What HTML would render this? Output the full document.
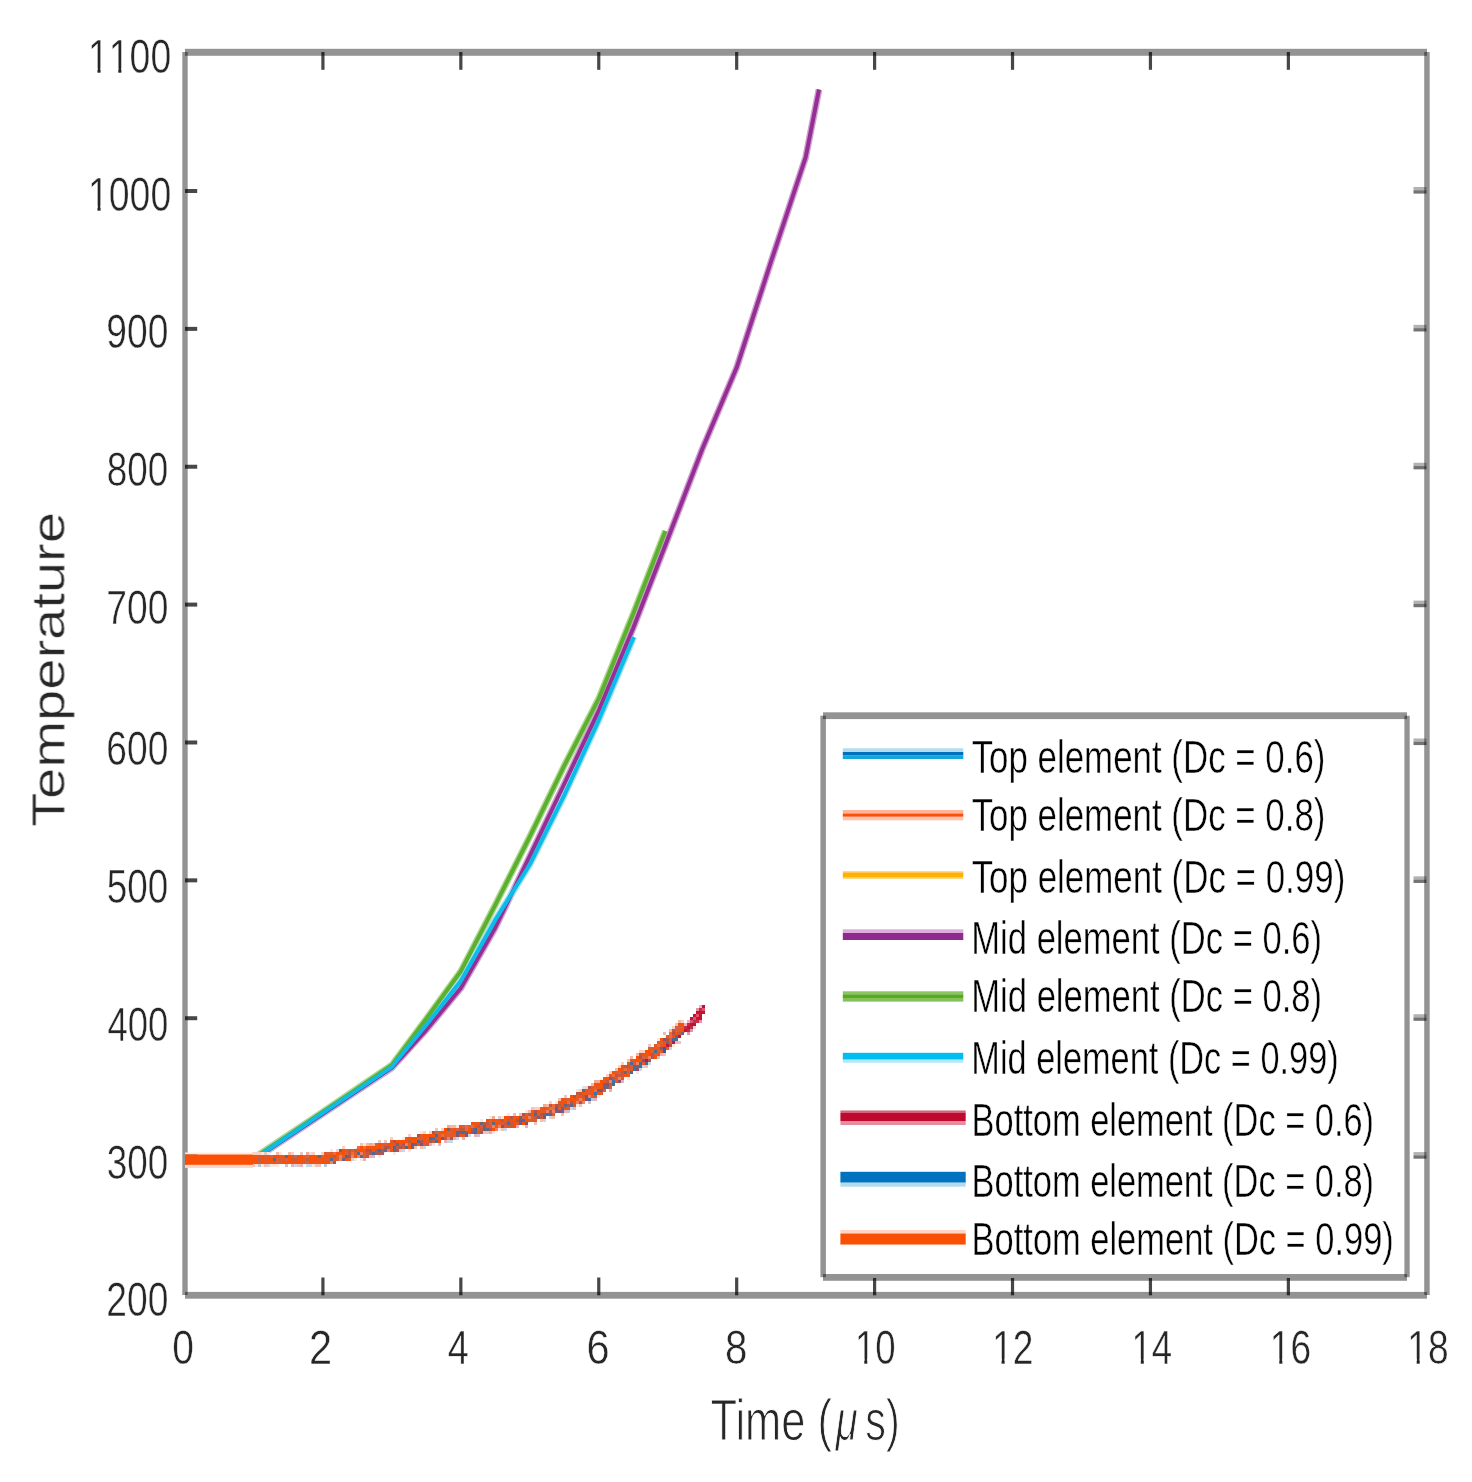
<!DOCTYPE html>
<html><head><meta charset="utf-8"><title>Temperature vs Time</title>
<style>html,body{margin:0;padding:0;background:#fff;width:1472px;height:1482px;overflow:hidden}</style>
</head><body>
<svg width="1472" height="1482" viewBox="0 0 1472 1482" style="display:block;font-family:'Liberation Sans',sans-serif">
<rect width="1472" height="1482" fill="#fff"/>
<rect x="185" y="48.8" width="1242" height="7" fill="rgba(0,0,0,0.425)"/><rect x="185" y="1291.9" width="1242" height="6.8" fill="rgba(0,0,0,0.425)"/><rect x="182.3" y="52" width="5.4" height="1243" fill="rgba(0,0,0,0.425)"/><rect x="1424.2" y="52" width="5.5" height="1243" fill="rgba(0,0,0,0.425)"/>
<rect x="185" y="1154.09" width="12.2" height="4" fill="rgba(0,0,0,0.72)"/><rect x="1413.5" y="1152.09" width="13" height="3.3" fill="rgba(0,0,0,0.3)"/><rect x="1413.5" y="1155.39" width="13" height="3.3" fill="rgba(0,0,0,0.55)"/><rect x="185" y="1016.22" width="12.2" height="4" fill="rgba(0,0,0,0.72)"/><rect x="1413.5" y="1014.22" width="13" height="3.3" fill="rgba(0,0,0,0.3)"/><rect x="1413.5" y="1017.52" width="13" height="3.3" fill="rgba(0,0,0,0.55)"/><rect x="185" y="878.35" width="12.2" height="4" fill="rgba(0,0,0,0.72)"/><rect x="1413.5" y="876.35" width="13" height="3.3" fill="rgba(0,0,0,0.3)"/><rect x="1413.5" y="879.65" width="13" height="3.3" fill="rgba(0,0,0,0.55)"/><rect x="185" y="740.48" width="12.2" height="4" fill="rgba(0,0,0,0.72)"/><rect x="1413.5" y="738.48" width="13" height="3.3" fill="rgba(0,0,0,0.3)"/><rect x="1413.5" y="741.78" width="13" height="3.3" fill="rgba(0,0,0,0.55)"/><rect x="185" y="602.61" width="12.2" height="4" fill="rgba(0,0,0,0.72)"/><rect x="1413.5" y="600.61" width="13" height="3.3" fill="rgba(0,0,0,0.3)"/><rect x="1413.5" y="603.91" width="13" height="3.3" fill="rgba(0,0,0,0.55)"/><rect x="185" y="464.74" width="12.2" height="4" fill="rgba(0,0,0,0.72)"/><rect x="1413.5" y="462.74" width="13" height="3.3" fill="rgba(0,0,0,0.3)"/><rect x="1413.5" y="466.04" width="13" height="3.3" fill="rgba(0,0,0,0.55)"/><rect x="185" y="326.87" width="12.2" height="4" fill="rgba(0,0,0,0.72)"/><rect x="1413.5" y="324.87" width="13" height="3.3" fill="rgba(0,0,0,0.3)"/><rect x="1413.5" y="328.17" width="13" height="3.3" fill="rgba(0,0,0,0.55)"/><rect x="185" y="189.00" width="12.2" height="4" fill="rgba(0,0,0,0.72)"/><rect x="1413.5" y="187.00" width="13" height="3.3" fill="rgba(0,0,0,0.3)"/><rect x="1413.5" y="190.30" width="13" height="3.3" fill="rgba(0,0,0,0.55)"/><rect x="321.32" y="1277.5" width="3.2" height="17.8" fill="rgba(0,0,0,0.72)"/><rect x="321.32" y="52" width="3.2" height="17.8" fill="rgba(0,0,0,0.72)"/><rect x="459.24" y="1277.5" width="3.2" height="17.8" fill="rgba(0,0,0,0.72)"/><rect x="459.24" y="52" width="3.2" height="17.8" fill="rgba(0,0,0,0.72)"/><rect x="597.16" y="1277.5" width="3.2" height="17.8" fill="rgba(0,0,0,0.72)"/><rect x="597.16" y="52" width="3.2" height="17.8" fill="rgba(0,0,0,0.72)"/><rect x="735.08" y="1277.5" width="3.2" height="17.8" fill="rgba(0,0,0,0.72)"/><rect x="735.08" y="52" width="3.2" height="17.8" fill="rgba(0,0,0,0.72)"/><rect x="873.00" y="1277.5" width="3.2" height="17.8" fill="rgba(0,0,0,0.72)"/><rect x="873.00" y="52" width="3.2" height="17.8" fill="rgba(0,0,0,0.72)"/><rect x="1010.92" y="1277.5" width="3.2" height="17.8" fill="rgba(0,0,0,0.72)"/><rect x="1010.92" y="52" width="3.2" height="17.8" fill="rgba(0,0,0,0.72)"/><rect x="1148.84" y="1277.5" width="3.2" height="17.8" fill="rgba(0,0,0,0.72)"/><rect x="1148.84" y="52" width="3.2" height="17.8" fill="rgba(0,0,0,0.72)"/><rect x="1286.76" y="1277.5" width="3.2" height="17.8" fill="rgba(0,0,0,0.72)"/><rect x="1286.76" y="52" width="3.2" height="17.8" fill="rgba(0,0,0,0.72)"/>
<g transform="scale(1.0,1)"><polyline points="253.30,1158.40 253.96,1157.96 288.44,1134.87 322.92,1111.72 357.40,1088.44 391.88,1065.02 426.36,1018.74 460.84,971.27 495.32,904.80 529.80,836.57 564.28,765.68 598.76,698.65 633.24,613.73 665.40,531.00" fill="none" stroke="#b0d890" stroke-width="6.8" stroke-linejoin="round" stroke-linecap="butt"/><polyline points="254.40,1159.40 288.44,1136.74 322.92,1113.74 357.40,1090.76 391.88,1067.83 426.36,1029.82 460.84,988.06 495.32,927.49 529.80,856.24 564.28,783.99 598.76,710.56 633.24,627.94 667.72,538.99 702.20,449.25 736.68,367.55 771.16,261.23 805.64,157.45 819.00,89.50" fill="none" stroke="#d0a0d0" stroke-width="6.8" stroke-linejoin="round" stroke-linecap="butt"/><polyline points="254.00,1159.00 288.44,1136.02 322.92,1112.95 357.40,1089.88 391.88,1066.85 426.36,1024.75 460.84,980.99 495.32,919.97 529.80,864.50 564.28,795.04 598.76,720.08 633.24,638.29 633.75,637.00" fill="none" stroke="#a0e0f6" stroke-width="6.8" stroke-linejoin="round" stroke-linecap="butt"/><polyline points="254.40,1159.40 288.44,1136.74 322.92,1113.74 357.40,1090.76 391.88,1067.83 426.36,1029.82 460.84,988.06 495.32,927.49 529.80,856.24 564.28,783.99 598.76,710.56 633.24,627.94 667.72,538.99 702.20,449.25 736.68,367.55 771.16,261.23 805.64,157.45 819.00,89.50" fill="none" stroke="#952f95" stroke-width="4.0" stroke-linejoin="round" stroke-linecap="butt"/><polyline points="253.30,1158.40 253.96,1157.96 288.44,1134.87 322.92,1111.72 357.40,1088.44 391.88,1065.02 426.36,1018.74 460.84,971.27 495.32,904.80 529.80,836.57 564.28,765.68 598.76,698.65 633.24,613.73 665.40,531.00" fill="none" stroke="#5cb030" stroke-width="4.0" stroke-linejoin="round" stroke-linecap="butt"/><polyline points="254.00,1159.00 288.44,1136.02 322.92,1112.95 357.40,1089.88 391.88,1066.85 426.36,1024.75 460.84,980.99 495.32,919.97 529.80,864.50 564.28,795.04 598.76,720.08 633.24,638.29 633.75,637.00" fill="none" stroke="#0cbbe8" stroke-width="4.0" stroke-linejoin="round" stroke-linecap="butt"/></g>
<g transform="scale(1.0,1)"><polyline points="322.00,1159.60 342.00,1155.50 372.00,1150.50 393.00,1146.30 430.00,1138.50 472.00,1129.00 497.00,1124.00 522.00,1120.00 540.75,1113.50 559.50,1107.50 576.00,1099.50 598.00,1089.40 620.00,1074.50 640.40,1061.00 660.80,1047.50 681.10,1030.00 684.00,1026.00" fill="none" stroke="#e35f2c" stroke-width="8.4" stroke-linejoin="round" stroke-linecap="butt" /></g>
<rect x="252" y="1152" width="3" height="3" fill="#fbd0c0"/><rect x="252" y="1155" width="3" height="3" fill="#e05a28"/><rect x="252" y="1158" width="3" height="3" fill="#fa5005"/><rect x="252" y="1161" width="3" height="3" fill="#e05a28"/><rect x="252" y="1164" width="3" height="3" fill="#f4c0b4"/><rect x="255" y="1152" width="3" height="3" fill="#fbd0c0"/><rect x="255" y="1155" width="3" height="3" fill="#e05a28"/><rect x="255" y="1158" width="3" height="3" fill="#fa5005"/><rect x="255" y="1161" width="3" height="3" fill="#fa5005"/><rect x="255" y="1164" width="3" height="3" fill="#fde6dc"/><rect x="258" y="1152" width="3" height="3" fill="#fbd0c0"/><rect x="258" y="1155" width="3" height="3" fill="#e05a28"/><rect x="258" y="1158" width="3" height="3" fill="#b86050"/><rect x="258" y="1161" width="3" height="3" fill="#e05a28"/><rect x="258" y="1164" width="3" height="3" fill="#b8c8dc"/><rect x="261" y="1152" width="3" height="3" fill="#fde6dc"/><rect x="261" y="1155" width="3" height="3" fill="#fa5005"/><rect x="261" y="1158" width="3" height="3" fill="#fa5005"/><rect x="261" y="1161" width="3" height="3" fill="#fa5005"/><rect x="261" y="1164" width="3" height="3" fill="#fde6dc"/><rect x="264" y="1152" width="3" height="3" fill="#e8c8c0"/><rect x="264" y="1155" width="3" height="3" fill="#e05a28"/><rect x="264" y="1158" width="3" height="3" fill="#e05a28"/><rect x="264" y="1161" width="3" height="3" fill="#e05a28"/><rect x="264" y="1164" width="3" height="3" fill="#f4c0b4"/><rect x="267" y="1152" width="3" height="3" fill="#fde6dc"/><rect x="267" y="1155" width="3" height="3" fill="#e05a28"/><rect x="267" y="1158" width="3" height="3" fill="#fa5005"/><rect x="267" y="1161" width="3" height="3" fill="#e05a28"/><rect x="267" y="1164" width="3" height="3" fill="#c8d8e8"/><rect x="270" y="1155" width="3" height="3" fill="#d8603c"/><rect x="270" y="1158" width="3" height="3" fill="#fa5005"/><rect x="270" y="1161" width="3" height="3" fill="#e05a28"/><rect x="270" y="1164" width="3" height="3" fill="#fde6dc"/><rect x="273" y="1155" width="3" height="3" fill="#fa5005"/><rect x="273" y="1158" width="3" height="3" fill="#6a6478"/><rect x="273" y="1161" width="3" height="3" fill="#fa5005"/><rect x="273" y="1164" width="3" height="3" fill="#fde6dc"/><rect x="276" y="1152" width="3" height="3" fill="#f6b8a4"/><rect x="276" y="1155" width="3" height="3" fill="#fa5005"/><rect x="276" y="1158" width="3" height="3" fill="#d8603c"/><rect x="276" y="1161" width="3" height="3" fill="#d8603c"/><rect x="276" y="1164" width="3" height="3" fill="#fde6dc"/><rect x="279" y="1152" width="3" height="3" fill="#fde6dc"/><rect x="279" y="1155" width="3" height="3" fill="#e05a28"/><rect x="279" y="1158" width="3" height="3" fill="#e05a28"/><rect x="279" y="1161" width="3" height="3" fill="#e05a28"/><rect x="282" y="1155" width="3" height="3" fill="#e05a28"/><rect x="282" y="1158" width="3" height="3" fill="#e05a28"/><rect x="282" y="1161" width="3" height="3" fill="#fa5005"/><rect x="285" y="1155" width="3" height="3" fill="#6a6478"/><rect x="285" y="1158" width="3" height="3" fill="#d8603c"/><rect x="285" y="1161" width="3" height="3" fill="#fa5005"/><rect x="285" y="1164" width="3" height="3" fill="#d0c0d0"/><rect x="288" y="1152" width="3" height="3" fill="#f6b8a4"/><rect x="288" y="1155" width="3" height="3" fill="#fa5005"/><rect x="288" y="1158" width="3" height="3" fill="#fa5005"/><rect x="288" y="1161" width="3" height="3" fill="#fa5005"/><rect x="291" y="1152" width="3" height="3" fill="#fbd0c0"/><rect x="291" y="1155" width="3" height="3" fill="#e05a28"/><rect x="291" y="1158" width="3" height="3" fill="#c85a40"/><rect x="291" y="1161" width="3" height="3" fill="#fa5005"/><rect x="291" y="1164" width="3" height="3" fill="#e8b0b8"/><rect x="294" y="1155" width="3" height="3" fill="#d8603c"/><rect x="294" y="1158" width="3" height="3" fill="#c85a40"/><rect x="294" y="1161" width="3" height="3" fill="#fa5005"/><rect x="294" y="1164" width="3" height="3" fill="#c8d8e8"/><rect x="297" y="1155" width="3" height="3" fill="#b86050"/><rect x="297" y="1158" width="3" height="3" fill="#fa5005"/><rect x="297" y="1161" width="3" height="3" fill="#fa5005"/><rect x="297" y="1164" width="3" height="3" fill="#f4c0b4"/><rect x="300" y="1152" width="3" height="3" fill="#e8c8c0"/><rect x="300" y="1155" width="3" height="3" fill="#fa5005"/><rect x="300" y="1158" width="3" height="3" fill="#fa5005"/><rect x="300" y="1161" width="3" height="3" fill="#e05a28"/><rect x="300" y="1164" width="3" height="3" fill="#e8b0b8"/><rect x="303" y="1155" width="3" height="3" fill="#d8603c"/><rect x="303" y="1158" width="3" height="3" fill="#e05a28"/><rect x="303" y="1161" width="3" height="3" fill="#e05a28"/><rect x="306" y="1152" width="3" height="3" fill="#f4a890"/><rect x="306" y="1155" width="3" height="3" fill="#d8603c"/><rect x="306" y="1158" width="3" height="3" fill="#c85a40"/><rect x="306" y="1161" width="3" height="3" fill="#d8603c"/><rect x="306" y="1164" width="3" height="3" fill="#c8d8e8"/><rect x="309" y="1152" width="3" height="3" fill="#d8e6f0"/><rect x="309" y="1155" width="3" height="3" fill="#fa5005"/><rect x="309" y="1158" width="3" height="3" fill="#fa5005"/><rect x="309" y="1161" width="3" height="3" fill="#fa5005"/><rect x="309" y="1164" width="3" height="3" fill="#c8d8e8"/><rect x="312" y="1152" width="3" height="3" fill="#fbd0c0"/><rect x="312" y="1155" width="3" height="3" fill="#fa5005"/><rect x="312" y="1158" width="3" height="3" fill="#fa5005"/><rect x="312" y="1161" width="3" height="3" fill="#e05a28"/><rect x="312" y="1164" width="3" height="3" fill="#fde6dc"/><rect x="315" y="1155" width="3" height="3" fill="#fa5005"/><rect x="315" y="1158" width="3" height="3" fill="#fa5005"/><rect x="315" y="1161" width="3" height="3" fill="#e05a28"/><rect x="315" y="1164" width="3" height="3" fill="#f4c0b4"/><rect x="318" y="1155" width="3" height="3" fill="#6a6478"/><rect x="318" y="1158" width="3" height="3" fill="#e05a28"/><rect x="318" y="1161" width="3" height="3" fill="#e05a28"/><rect x="318" y="1164" width="3" height="3" fill="#f4c0b4"/><rect x="321" y="1152" width="3" height="3" fill="#fbd0c0"/><rect x="321" y="1155" width="3" height="3" fill="#d8603c"/><rect x="321" y="1158" width="3" height="3" fill="#fa5005"/><rect x="321" y="1161" width="3" height="3" fill="#fa5005"/><rect x="324" y="1152" width="3" height="3" fill="#e05a28"/><rect x="324" y="1155" width="3" height="3" fill="#fa5005"/><rect x="324" y="1158" width="3" height="3" fill="#e05a28"/><rect x="324" y="1161" width="3" height="3" fill="#fa5005"/><rect x="324" y="1164" width="3" height="3" fill="#b8c8dc"/><rect x="327" y="1152" width="3" height="3" fill="#d8603c"/><rect x="327" y="1155" width="3" height="3" fill="#fa5005"/><rect x="327" y="1158" width="3" height="3" fill="#e05a28"/><rect x="327" y="1161" width="3" height="3" fill="#fa5005"/><rect x="330" y="1149" width="3" height="3" fill="#fde6dc"/><rect x="330" y="1152" width="3" height="3" fill="#e45a24"/><rect x="330" y="1155" width="3" height="3" fill="#fa5005"/><rect x="330" y="1158" width="3" height="3" fill="#4a6a96"/><rect x="330" y="1161" width="3" height="3" fill="#f08060"/><rect x="333" y="1152" width="3" height="3" fill="#ee6a3a"/><rect x="333" y="1155" width="3" height="3" fill="#c0583e"/><rect x="333" y="1158" width="3" height="3" fill="#e05a2a"/><rect x="333" y="1161" width="3" height="3" fill="#a85858"/><rect x="336" y="1149" width="3" height="3" fill="#fbd0c0"/><rect x="336" y="1152" width="3" height="3" fill="#fa5005"/><rect x="336" y="1155" width="3" height="3" fill="#e05a2a"/><rect x="336" y="1158" width="3" height="3" fill="#e05a2a"/><rect x="339" y="1149" width="3" height="3" fill="#6a6478"/><rect x="339" y="1152" width="3" height="3" fill="#e45a24"/><rect x="339" y="1155" width="3" height="3" fill="#f08060"/><rect x="339" y="1158" width="3" height="3" fill="#f08060"/><rect x="342" y="1146" width="3" height="3" fill="#fbd0c0"/><rect x="342" y="1149" width="3" height="3" fill="#fa5005"/><rect x="342" y="1152" width="3" height="3" fill="#fa5005"/><rect x="342" y="1155" width="3" height="3" fill="#e05a2a"/><rect x="342" y="1158" width="3" height="3" fill="#6a6480"/><rect x="345" y="1149" width="3" height="3" fill="#e45a24"/><rect x="345" y="1152" width="3" height="3" fill="#d8603a"/><rect x="345" y="1155" width="3" height="3" fill="#4a6a96"/><rect x="345" y="1158" width="3" height="3" fill="#fa5005"/><rect x="348" y="1149" width="3" height="3" fill="#c0583e"/><rect x="348" y="1152" width="3" height="3" fill="#c0583e"/><rect x="348" y="1155" width="3" height="3" fill="#a85858"/><rect x="348" y="1158" width="3" height="3" fill="#e05a2a"/><rect x="351" y="1149" width="3" height="3" fill="#e45a24"/><rect x="351" y="1152" width="3" height="3" fill="#ee6a3a"/><rect x="351" y="1155" width="3" height="3" fill="#f08060"/><rect x="351" y="1158" width="3" height="3" fill="#c8d8e8"/><rect x="354" y="1149" width="3" height="3" fill="#c0583e"/><rect x="354" y="1152" width="3" height="3" fill="#e05a2a"/><rect x="354" y="1155" width="3" height="3" fill="#fa5005"/><rect x="354" y="1158" width="3" height="3" fill="#fde6dc"/><rect x="357" y="1146" width="3" height="3" fill="#ee6a3a"/><rect x="357" y="1149" width="3" height="3" fill="#fa5005"/><rect x="357" y="1152" width="3" height="3" fill="#3a72b0"/><rect x="357" y="1155" width="3" height="3" fill="#f08060"/><rect x="360" y="1143" width="3" height="3" fill="#e8c8c0"/><rect x="360" y="1146" width="3" height="3" fill="#fa5005"/><rect x="360" y="1149" width="3" height="3" fill="#fa5005"/><rect x="360" y="1152" width="3" height="3" fill="#f08060"/><rect x="360" y="1155" width="3" height="3" fill="#6a6480"/><rect x="360" y="1158" width="3" height="3" fill="#fde6dc"/><rect x="363" y="1143" width="3" height="3" fill="#fde6dc"/><rect x="363" y="1146" width="3" height="3" fill="#ee6a3a"/><rect x="363" y="1149" width="3" height="3" fill="#fa5005"/><rect x="363" y="1152" width="3" height="3" fill="#e05a2a"/><rect x="363" y="1155" width="3" height="3" fill="#e05a2a"/><rect x="363" y="1158" width="3" height="3" fill="#e8b0b8"/><rect x="366" y="1143" width="3" height="3" fill="#f6b8a4"/><rect x="366" y="1146" width="3" height="3" fill="#fa5005"/><rect x="366" y="1149" width="3" height="3" fill="#b85048"/><rect x="366" y="1152" width="3" height="3" fill="#c8583e"/><rect x="366" y="1155" width="3" height="3" fill="#c8583e"/><rect x="369" y="1143" width="3" height="3" fill="#f4a890"/><rect x="369" y="1146" width="3" height="3" fill="#e45a24"/><rect x="369" y="1149" width="3" height="3" fill="#b85048"/><rect x="369" y="1152" width="3" height="3" fill="#a85858"/><rect x="369" y="1155" width="3" height="3" fill="#e8b0b8"/><rect x="372" y="1143" width="3" height="3" fill="#f6b8a4"/><rect x="372" y="1146" width="3" height="3" fill="#fa5005"/><rect x="372" y="1149" width="3" height="3" fill="#fa5005"/><rect x="372" y="1152" width="3" height="3" fill="#4a6a96"/><rect x="372" y="1155" width="3" height="3" fill="#e8b0b8"/><rect x="375" y="1143" width="3" height="3" fill="#d8603a"/><rect x="375" y="1146" width="3" height="3" fill="#e45a24"/><rect x="375" y="1149" width="3" height="3" fill="#a85858"/><rect x="375" y="1152" width="3" height="3" fill="#a85858"/><rect x="378" y="1140" width="3" height="3" fill="#e8c8c0"/><rect x="378" y="1143" width="3" height="3" fill="#fa5005"/><rect x="378" y="1146" width="3" height="3" fill="#fa5005"/><rect x="378" y="1149" width="3" height="3" fill="#4a6a96"/><rect x="378" y="1152" width="3" height="3" fill="#a85858"/><rect x="378" y="1155" width="3" height="3" fill="#fde6dc"/><rect x="381" y="1143" width="3" height="3" fill="#e45a24"/><rect x="381" y="1146" width="3" height="3" fill="#d8603a"/><rect x="381" y="1149" width="3" height="3" fill="#a85858"/><rect x="381" y="1152" width="3" height="3" fill="#a85858"/><rect x="384" y="1140" width="3" height="3" fill="#e8c8c0"/><rect x="384" y="1143" width="3" height="3" fill="#e45a24"/><rect x="384" y="1146" width="3" height="3" fill="#b85048"/><rect x="384" y="1149" width="3" height="3" fill="#6a6480"/><rect x="387" y="1143" width="3" height="3" fill="#fa5005"/><rect x="387" y="1146" width="3" height="3" fill="#a85858"/><rect x="387" y="1149" width="3" height="3" fill="#f08060"/><rect x="390" y="1137" width="3" height="3" fill="#fbd0c0"/><rect x="390" y="1140" width="3" height="3" fill="#e45a24"/><rect x="390" y="1143" width="3" height="3" fill="#fa5005"/><rect x="390" y="1146" width="3" height="3" fill="#e05a2a"/><rect x="390" y="1149" width="3" height="3" fill="#fa5005"/><rect x="393" y="1140" width="3" height="3" fill="#b85048"/><rect x="393" y="1143" width="3" height="3" fill="#fa5005"/><rect x="393" y="1146" width="3" height="3" fill="#4a6a96"/><rect x="393" y="1149" width="3" height="3" fill="#6a6480"/><rect x="393" y="1152" width="3" height="3" fill="#fde6dc"/><rect x="396" y="1140" width="3" height="3" fill="#fa5005"/><rect x="396" y="1143" width="3" height="3" fill="#6a6478"/><rect x="396" y="1146" width="3" height="3" fill="#c8583e"/><rect x="396" y="1149" width="3" height="3" fill="#a85858"/><rect x="399" y="1140" width="3" height="3" fill="#fa5005"/><rect x="399" y="1143" width="3" height="3" fill="#e45a24"/><rect x="399" y="1146" width="3" height="3" fill="#a85858"/><rect x="399" y="1149" width="3" height="3" fill="#f4c0b4"/><rect x="402" y="1137" width="3" height="3" fill="#fde6dc"/><rect x="402" y="1140" width="3" height="3" fill="#fa5005"/><rect x="402" y="1143" width="3" height="3" fill="#a85858"/><rect x="402" y="1146" width="3" height="3" fill="#c8583e"/><rect x="402" y="1149" width="3" height="3" fill="#c8d8e8"/><rect x="405" y="1137" width="3" height="3" fill="#e45a24"/><rect x="405" y="1140" width="3" height="3" fill="#fa5005"/><rect x="405" y="1143" width="3" height="3" fill="#f08060"/><rect x="405" y="1146" width="3" height="3" fill="#4a6a96"/><rect x="408" y="1134" width="3" height="3" fill="#fbd0c0"/><rect x="408" y="1137" width="3" height="3" fill="#fa5005"/><rect x="408" y="1140" width="3" height="3" fill="#c0583e"/><rect x="408" y="1143" width="3" height="3" fill="#e05a2a"/><rect x="408" y="1146" width="3" height="3" fill="#fa5005"/><rect x="408" y="1149" width="3" height="3" fill="#fde6dc"/><rect x="411" y="1137" width="3" height="3" fill="#fa5005"/><rect x="411" y="1140" width="3" height="3" fill="#fa5005"/><rect x="411" y="1143" width="3" height="3" fill="#8a5070"/><rect x="411" y="1146" width="3" height="3" fill="#6a6480"/><rect x="414" y="1137" width="3" height="3" fill="#fa5005"/><rect x="414" y="1140" width="3" height="3" fill="#fa5005"/><rect x="414" y="1143" width="3" height="3" fill="#6a6480"/><rect x="414" y="1146" width="3" height="3" fill="#f4c0b4"/><rect x="417" y="1134" width="3" height="3" fill="#b85048"/><rect x="417" y="1137" width="3" height="3" fill="#d8603a"/><rect x="417" y="1140" width="3" height="3" fill="#4a6a96"/><rect x="417" y="1143" width="3" height="3" fill="#fa5005"/><rect x="420" y="1131" width="3" height="3" fill="#fde6dc"/><rect x="420" y="1134" width="3" height="3" fill="#e45a24"/><rect x="420" y="1137" width="3" height="3" fill="#e45a24"/><rect x="420" y="1140" width="3" height="3" fill="#a85858"/><rect x="420" y="1143" width="3" height="3" fill="#8a5070"/><rect x="420" y="1146" width="3" height="3" fill="#f4c0b4"/><rect x="423" y="1131" width="3" height="3" fill="#fbd0c0"/><rect x="423" y="1134" width="3" height="3" fill="#fa5005"/><rect x="423" y="1137" width="3" height="3" fill="#fa5005"/><rect x="423" y="1140" width="3" height="3" fill="#fa5005"/><rect x="423" y="1143" width="3" height="3" fill="#e05a2a"/><rect x="423" y="1146" width="3" height="3" fill="#c8d8e8"/><rect x="426" y="1134" width="3" height="3" fill="#fa5005"/><rect x="426" y="1137" width="3" height="3" fill="#e45a24"/><rect x="426" y="1140" width="3" height="3" fill="#e05a2a"/><rect x="426" y="1143" width="3" height="3" fill="#c8583e"/><rect x="429" y="1131" width="3" height="3" fill="#fbd0c0"/><rect x="429" y="1134" width="3" height="3" fill="#fa5005"/><rect x="429" y="1137" width="3" height="3" fill="#4a6a96"/><rect x="429" y="1140" width="3" height="3" fill="#a85858"/><rect x="429" y="1143" width="3" height="3" fill="#e8b0b8"/><rect x="432" y="1131" width="3" height="3" fill="#b85048"/><rect x="432" y="1134" width="3" height="3" fill="#fa5005"/><rect x="432" y="1137" width="3" height="3" fill="#3a72b0"/><rect x="432" y="1140" width="3" height="3" fill="#c8583e"/><rect x="432" y="1143" width="3" height="3" fill="#fde6dc"/><rect x="435" y="1128" width="3" height="3" fill="#e8c8c0"/><rect x="435" y="1131" width="3" height="3" fill="#d8603a"/><rect x="435" y="1134" width="3" height="3" fill="#4c6a92"/><rect x="435" y="1137" width="3" height="3" fill="#c8583e"/><rect x="435" y="1140" width="3" height="3" fill="#3a72b0"/><rect x="438" y="1131" width="3" height="3" fill="#e45a24"/><rect x="438" y="1134" width="3" height="3" fill="#e45a24"/><rect x="438" y="1137" width="3" height="3" fill="#fa5005"/><rect x="438" y="1140" width="3" height="3" fill="#fa5005"/><rect x="438" y="1143" width="3" height="3" fill="#d0c0d0"/><rect x="441" y="1128" width="3" height="3" fill="#fbd0c0"/><rect x="441" y="1131" width="3" height="3" fill="#fa5005"/><rect x="441" y="1134" width="3" height="3" fill="#ee6a3a"/><rect x="441" y="1137" width="3" height="3" fill="#8a5070"/><rect x="444" y="1128" width="3" height="3" fill="#fa5005"/><rect x="444" y="1131" width="3" height="3" fill="#fa5005"/><rect x="444" y="1134" width="3" height="3" fill="#e05a2a"/><rect x="444" y="1137" width="3" height="3" fill="#c8583e"/><rect x="444" y="1140" width="3" height="3" fill="#e8b0b8"/><rect x="447" y="1125" width="3" height="3" fill="#f4a890"/><rect x="447" y="1128" width="3" height="3" fill="#6a6478"/><rect x="447" y="1131" width="3" height="3" fill="#d8603a"/><rect x="447" y="1134" width="3" height="3" fill="#e05a2a"/><rect x="447" y="1137" width="3" height="3" fill="#f08060"/><rect x="447" y="1140" width="3" height="3" fill="#c8d8e8"/><rect x="450" y="1125" width="3" height="3" fill="#f6b8a4"/><rect x="450" y="1128" width="3" height="3" fill="#e45a24"/><rect x="450" y="1131" width="3" height="3" fill="#e45a24"/><rect x="450" y="1134" width="3" height="3" fill="#e05a2a"/><rect x="450" y="1137" width="3" height="3" fill="#a85858"/><rect x="450" y="1140" width="3" height="3" fill="#c8d8e8"/><rect x="453" y="1125" width="3" height="3" fill="#f6b8a4"/><rect x="453" y="1128" width="3" height="3" fill="#fa5005"/><rect x="453" y="1131" width="3" height="3" fill="#fa5005"/><rect x="453" y="1134" width="3" height="3" fill="#e05a2a"/><rect x="453" y="1137" width="3" height="3" fill="#e8b0b8"/><rect x="456" y="1125" width="3" height="3" fill="#fde6dc"/><rect x="456" y="1128" width="3" height="3" fill="#d8603a"/><rect x="456" y="1131" width="3" height="3" fill="#4a6a96"/><rect x="456" y="1134" width="3" height="3" fill="#8a5070"/><rect x="456" y="1137" width="3" height="3" fill="#c8d8e8"/><rect x="459" y="1125" width="3" height="3" fill="#fa5005"/><rect x="459" y="1128" width="3" height="3" fill="#c0583e"/><rect x="459" y="1131" width="3" height="3" fill="#6a6480"/><rect x="459" y="1134" width="3" height="3" fill="#fa5005"/><rect x="462" y="1125" width="3" height="3" fill="#d8603a"/><rect x="462" y="1128" width="3" height="3" fill="#c0583e"/><rect x="462" y="1131" width="3" height="3" fill="#4a6a96"/><rect x="462" y="1134" width="3" height="3" fill="#e05a2a"/><rect x="462" y="1137" width="3" height="3" fill="#e8b0b8"/><rect x="465" y="1125" width="3" height="3" fill="#ee6a3a"/><rect x="465" y="1128" width="3" height="3" fill="#ee6a3a"/><rect x="465" y="1131" width="3" height="3" fill="#6a6480"/><rect x="465" y="1134" width="3" height="3" fill="#8a5070"/><rect x="468" y="1125" width="3" height="3" fill="#d8603a"/><rect x="468" y="1128" width="3" height="3" fill="#fa5005"/><rect x="468" y="1131" width="3" height="3" fill="#fa5005"/><rect x="468" y="1134" width="3" height="3" fill="#c8d8e8"/><rect x="471" y="1122" width="3" height="3" fill="#fa5005"/><rect x="471" y="1125" width="3" height="3" fill="#ee6a3a"/><rect x="471" y="1128" width="3" height="3" fill="#a85858"/><rect x="471" y="1131" width="3" height="3" fill="#6a6480"/><rect x="474" y="1122" width="3" height="3" fill="#e45a24"/><rect x="474" y="1125" width="3" height="3" fill="#fa5005"/><rect x="474" y="1128" width="3" height="3" fill="#4a6a96"/><rect x="474" y="1131" width="3" height="3" fill="#4a6a96"/><rect x="474" y="1134" width="3" height="3" fill="#e8b0b8"/><rect x="477" y="1122" width="3" height="3" fill="#fa5005"/><rect x="477" y="1125" width="3" height="3" fill="#c0583e"/><rect x="477" y="1128" width="3" height="3" fill="#e05a2a"/><rect x="477" y="1131" width="3" height="3" fill="#fa5005"/><rect x="477" y="1134" width="3" height="3" fill="#d0c0d0"/><rect x="480" y="1119" width="3" height="3" fill="#fde6dc"/><rect x="480" y="1122" width="3" height="3" fill="#6a6478"/><rect x="480" y="1125" width="3" height="3" fill="#e45a24"/><rect x="480" y="1128" width="3" height="3" fill="#c8583e"/><rect x="480" y="1131" width="3" height="3" fill="#a85858"/><rect x="483" y="1122" width="3" height="3" fill="#c0583e"/><rect x="483" y="1125" width="3" height="3" fill="#6a6480"/><rect x="483" y="1128" width="3" height="3" fill="#6a6480"/><rect x="483" y="1131" width="3" height="3" fill="#f4c0b4"/><rect x="486" y="1119" width="3" height="3" fill="#fa5005"/><rect x="486" y="1122" width="3" height="3" fill="#c0583e"/><rect x="486" y="1125" width="3" height="3" fill="#e05a2a"/><rect x="486" y="1128" width="3" height="3" fill="#6a6480"/><rect x="486" y="1131" width="3" height="3" fill="#f4c0b4"/><rect x="489" y="1116" width="3" height="3" fill="#fde6dc"/><rect x="489" y="1119" width="3" height="3" fill="#d8603a"/><rect x="489" y="1122" width="3" height="3" fill="#d8603a"/><rect x="489" y="1125" width="3" height="3" fill="#e05a2a"/><rect x="489" y="1128" width="3" height="3" fill="#a85858"/><rect x="489" y="1131" width="3" height="3" fill="#e8b0b8"/><rect x="492" y="1116" width="3" height="3" fill="#f4a890"/><rect x="492" y="1119" width="3" height="3" fill="#fa5005"/><rect x="492" y="1122" width="3" height="3" fill="#6a6478"/><rect x="492" y="1125" width="3" height="3" fill="#f08060"/><rect x="492" y="1128" width="3" height="3" fill="#fa5005"/><rect x="492" y="1131" width="3" height="3" fill="#fde6dc"/><rect x="495" y="1119" width="3" height="3" fill="#e45a24"/><rect x="495" y="1122" width="3" height="3" fill="#fa5005"/><rect x="495" y="1125" width="3" height="3" fill="#e05a2a"/><rect x="495" y="1128" width="3" height="3" fill="#f08060"/><rect x="498" y="1116" width="3" height="3" fill="#e8c8c0"/><rect x="498" y="1119" width="3" height="3" fill="#fa5005"/><rect x="498" y="1122" width="3" height="3" fill="#e45a24"/><rect x="498" y="1125" width="3" height="3" fill="#f08060"/><rect x="498" y="1128" width="3" height="3" fill="#fde6dc"/><rect x="501" y="1116" width="3" height="3" fill="#fde6dc"/><rect x="501" y="1119" width="3" height="3" fill="#c0583e"/><rect x="501" y="1122" width="3" height="3" fill="#e05a2a"/><rect x="501" y="1125" width="3" height="3" fill="#8a5070"/><rect x="501" y="1128" width="3" height="3" fill="#f4c0b4"/><rect x="504" y="1116" width="3" height="3" fill="#fa5005"/><rect x="504" y="1119" width="3" height="3" fill="#e45a24"/><rect x="504" y="1122" width="3" height="3" fill="#c8583e"/><rect x="504" y="1125" width="3" height="3" fill="#e05a2a"/><rect x="504" y="1128" width="3" height="3" fill="#c8d8e8"/><rect x="507" y="1113" width="3" height="3" fill="#fde6dc"/><rect x="507" y="1116" width="3" height="3" fill="#fa5005"/><rect x="507" y="1119" width="3" height="3" fill="#c0583e"/><rect x="507" y="1122" width="3" height="3" fill="#3a72b0"/><rect x="507" y="1125" width="3" height="3" fill="#fa5005"/><rect x="510" y="1116" width="3" height="3" fill="#b85048"/><rect x="510" y="1119" width="3" height="3" fill="#fa5005"/><rect x="510" y="1122" width="3" height="3" fill="#c8583e"/><rect x="510" y="1125" width="3" height="3" fill="#c8583e"/><rect x="513" y="1113" width="3" height="3" fill="#f6b8a4"/><rect x="513" y="1116" width="3" height="3" fill="#e45a24"/><rect x="513" y="1119" width="3" height="3" fill="#fa5005"/><rect x="513" y="1122" width="3" height="3" fill="#fa5005"/><rect x="513" y="1125" width="3" height="3" fill="#fa5005"/><rect x="516" y="1116" width="3" height="3" fill="#fa5005"/><rect x="516" y="1119" width="3" height="3" fill="#b85048"/><rect x="516" y="1122" width="3" height="3" fill="#e05a2a"/><rect x="516" y="1125" width="3" height="3" fill="#e8b0b8"/><rect x="519" y="1113" width="3" height="3" fill="#f6b8a4"/><rect x="519" y="1116" width="3" height="3" fill="#6a6478"/><rect x="519" y="1119" width="3" height="3" fill="#8a5070"/><rect x="519" y="1122" width="3" height="3" fill="#4a6a96"/><rect x="522" y="1113" width="3" height="3" fill="#b85048"/><rect x="522" y="1116" width="3" height="3" fill="#d8603a"/><rect x="522" y="1119" width="3" height="3" fill="#4a6a96"/><rect x="522" y="1122" width="3" height="3" fill="#fa5005"/><rect x="525" y="1110" width="3" height="3" fill="#fde6dc"/><rect x="525" y="1113" width="3" height="3" fill="#d8603a"/><rect x="525" y="1116" width="3" height="3" fill="#fa5005"/><rect x="525" y="1119" width="3" height="3" fill="#fa5005"/><rect x="525" y="1122" width="3" height="3" fill="#8a5070"/><rect x="525" y="1125" width="3" height="3" fill="#e8b0b8"/><rect x="528" y="1110" width="3" height="3" fill="#f6b8a4"/><rect x="528" y="1113" width="3" height="3" fill="#c0583e"/><rect x="528" y="1116" width="3" height="3" fill="#f08060"/><rect x="528" y="1119" width="3" height="3" fill="#e05a2a"/><rect x="531" y="1107" width="3" height="3" fill="#e8c8c0"/><rect x="531" y="1110" width="3" height="3" fill="#e45a24"/><rect x="531" y="1113" width="3" height="3" fill="#fa5005"/><rect x="531" y="1116" width="3" height="3" fill="#e05a2a"/><rect x="531" y="1119" width="3" height="3" fill="#e05a2a"/><rect x="534" y="1107" width="3" height="3" fill="#fbd0c0"/><rect x="534" y="1110" width="3" height="3" fill="#b85048"/><rect x="534" y="1113" width="3" height="3" fill="#4c6a92"/><rect x="534" y="1116" width="3" height="3" fill="#c8583e"/><rect x="534" y="1119" width="3" height="3" fill="#e05a2a"/><rect x="534" y="1122" width="3" height="3" fill="#f4c0b4"/><rect x="537" y="1107" width="3" height="3" fill="#fbd0c0"/><rect x="537" y="1110" width="3" height="3" fill="#fa5005"/><rect x="537" y="1113" width="3" height="3" fill="#e05a2a"/><rect x="537" y="1116" width="3" height="3" fill="#6a6480"/><rect x="540" y="1107" width="3" height="3" fill="#e45a24"/><rect x="540" y="1110" width="3" height="3" fill="#e45a24"/><rect x="540" y="1113" width="3" height="3" fill="#a85858"/><rect x="540" y="1116" width="3" height="3" fill="#c8583e"/><rect x="540" y="1119" width="3" height="3" fill="#f4c0b4"/><rect x="543" y="1104" width="3" height="3" fill="#f4a890"/><rect x="543" y="1107" width="3" height="3" fill="#fa5005"/><rect x="543" y="1110" width="3" height="3" fill="#e45a24"/><rect x="543" y="1113" width="3" height="3" fill="#6a6480"/><rect x="543" y="1116" width="3" height="3" fill="#8a5070"/><rect x="543" y="1119" width="3" height="3" fill="#c8d8e8"/><rect x="546" y="1104" width="3" height="3" fill="#f6b8a4"/><rect x="546" y="1107" width="3" height="3" fill="#e45a24"/><rect x="546" y="1110" width="3" height="3" fill="#f08060"/><rect x="546" y="1113" width="3" height="3" fill="#3a72b0"/><rect x="549" y="1101" width="3" height="3" fill="#fbd0c0"/><rect x="549" y="1104" width="3" height="3" fill="#c0583e"/><rect x="549" y="1107" width="3" height="3" fill="#ee6a3a"/><rect x="549" y="1110" width="3" height="3" fill="#a85858"/><rect x="549" y="1113" width="3" height="3" fill="#6a6480"/><rect x="549" y="1116" width="3" height="3" fill="#c8d8e8"/><rect x="552" y="1104" width="3" height="3" fill="#ee6a3a"/><rect x="552" y="1107" width="3" height="3" fill="#ee6a3a"/><rect x="552" y="1110" width="3" height="3" fill="#f08060"/><rect x="552" y="1113" width="3" height="3" fill="#e05a2a"/><rect x="552" y="1116" width="3" height="3" fill="#f4c0b4"/><rect x="555" y="1101" width="3" height="3" fill="#fde6dc"/><rect x="555" y="1104" width="3" height="3" fill="#b85048"/><rect x="555" y="1107" width="3" height="3" fill="#4a6a96"/><rect x="555" y="1110" width="3" height="3" fill="#6a6480"/><rect x="558" y="1098" width="3" height="3" fill="#e8c8c0"/><rect x="558" y="1101" width="3" height="3" fill="#fa5005"/><rect x="558" y="1104" width="3" height="3" fill="#c0583e"/><rect x="558" y="1107" width="3" height="3" fill="#e05a2a"/><rect x="558" y="1110" width="3" height="3" fill="#8a5070"/><rect x="561" y="1098" width="3" height="3" fill="#fa5005"/><rect x="561" y="1101" width="3" height="3" fill="#fa5005"/><rect x="561" y="1104" width="3" height="3" fill="#fa5005"/><rect x="561" y="1107" width="3" height="3" fill="#6a6480"/><rect x="561" y="1110" width="3" height="3" fill="#6a6480"/><rect x="561" y="1113" width="3" height="3" fill="#f4c0b4"/><rect x="564" y="1095" width="3" height="3" fill="#e8c8c0"/><rect x="564" y="1098" width="3" height="3" fill="#e45a24"/><rect x="564" y="1101" width="3" height="3" fill="#fa5005"/><rect x="564" y="1104" width="3" height="3" fill="#6a6480"/><rect x="564" y="1107" width="3" height="3" fill="#fa5005"/><rect x="564" y="1110" width="3" height="3" fill="#e8b0b8"/><rect x="567" y="1098" width="3" height="3" fill="#d8603a"/><rect x="567" y="1101" width="3" height="3" fill="#ee6a3a"/><rect x="567" y="1104" width="3" height="3" fill="#a85858"/><rect x="567" y="1107" width="3" height="3" fill="#e05a2a"/><rect x="567" y="1110" width="3" height="3" fill="#b8c8dc"/><rect x="570" y="1095" width="3" height="3" fill="#fa5005"/><rect x="570" y="1098" width="3" height="3" fill="#fa5005"/><rect x="570" y="1101" width="3" height="3" fill="#a85858"/><rect x="570" y="1104" width="3" height="3" fill="#6a6480"/><rect x="570" y="1107" width="3" height="3" fill="#c8d8e8"/><rect x="573" y="1095" width="3" height="3" fill="#b85048"/><rect x="573" y="1098" width="3" height="3" fill="#fa5005"/><rect x="573" y="1101" width="3" height="3" fill="#fa5005"/><rect x="573" y="1104" width="3" height="3" fill="#c8583e"/><rect x="573" y="1107" width="3" height="3" fill="#d0c0d0"/><rect x="576" y="1089" width="3" height="3" fill="#fde6dc"/><rect x="576" y="1092" width="3" height="3" fill="#c0583e"/><rect x="576" y="1095" width="3" height="3" fill="#e45a24"/><rect x="576" y="1098" width="3" height="3" fill="#e05a2a"/><rect x="576" y="1101" width="3" height="3" fill="#f08060"/><rect x="576" y="1104" width="3" height="3" fill="#fde6dc"/><rect x="579" y="1089" width="3" height="3" fill="#fbd0c0"/><rect x="579" y="1092" width="3" height="3" fill="#c0583e"/><rect x="579" y="1095" width="3" height="3" fill="#fa5005"/><rect x="579" y="1098" width="3" height="3" fill="#f08060"/><rect x="579" y="1101" width="3" height="3" fill="#a85858"/><rect x="579" y="1104" width="3" height="3" fill="#f4c0b4"/><rect x="582" y="1086" width="3" height="3" fill="#d8e6f0"/><rect x="582" y="1089" width="3" height="3" fill="#6a6478"/><rect x="582" y="1092" width="3" height="3" fill="#fa5005"/><rect x="582" y="1095" width="3" height="3" fill="#c8583e"/><rect x="582" y="1098" width="3" height="3" fill="#e05a2a"/><rect x="582" y="1101" width="3" height="3" fill="#f08060"/><rect x="585" y="1086" width="3" height="3" fill="#fbd0c0"/><rect x="585" y="1089" width="3" height="3" fill="#fa5005"/><rect x="585" y="1092" width="3" height="3" fill="#e45a24"/><rect x="585" y="1095" width="3" height="3" fill="#8a5070"/><rect x="585" y="1098" width="3" height="3" fill="#8a5070"/><rect x="588" y="1086" width="3" height="3" fill="#b85048"/><rect x="588" y="1089" width="3" height="3" fill="#e45a24"/><rect x="588" y="1092" width="3" height="3" fill="#e05a2a"/><rect x="588" y="1095" width="3" height="3" fill="#f08060"/><rect x="588" y="1098" width="3" height="3" fill="#4a6a96"/><rect x="588" y="1101" width="3" height="3" fill="#d0c0d0"/><rect x="591" y="1083" width="3" height="3" fill="#f6b8a4"/><rect x="591" y="1086" width="3" height="3" fill="#e45a24"/><rect x="591" y="1089" width="3" height="3" fill="#fa5005"/><rect x="591" y="1092" width="3" height="3" fill="#fa5005"/><rect x="591" y="1095" width="3" height="3" fill="#e05a2a"/><rect x="591" y="1098" width="3" height="3" fill="#b8c8dc"/><rect x="594" y="1080" width="3" height="3" fill="#f4a890"/><rect x="594" y="1083" width="3" height="3" fill="#fa5005"/><rect x="594" y="1086" width="3" height="3" fill="#e45a24"/><rect x="594" y="1089" width="3" height="3" fill="#ee6a3a"/><rect x="594" y="1092" width="3" height="3" fill="#3a72b0"/><rect x="594" y="1095" width="3" height="3" fill="#c8583e"/><rect x="594" y="1098" width="3" height="3" fill="#e8b0b8"/><rect x="597" y="1080" width="3" height="3" fill="#f4a890"/><rect x="597" y="1083" width="3" height="3" fill="#fa5005"/><rect x="597" y="1086" width="3" height="3" fill="#e45a24"/><rect x="597" y="1089" width="3" height="3" fill="#8a5070"/><rect x="597" y="1092" width="3" height="3" fill="#fa5005"/><rect x="597" y="1095" width="3" height="3" fill="#fde6dc"/><rect x="600" y="1080" width="3" height="3" fill="#fa5005"/><rect x="600" y="1083" width="3" height="3" fill="#fa5005"/><rect x="600" y="1086" width="3" height="3" fill="#fa5005"/><rect x="600" y="1089" width="3" height="3" fill="#8a5070"/><rect x="600" y="1092" width="3" height="3" fill="#e05a2a"/><rect x="603" y="1077" width="3" height="3" fill="#e45a24"/><rect x="603" y="1080" width="3" height="3" fill="#fa5005"/><rect x="603" y="1083" width="3" height="3" fill="#6a6478"/><rect x="603" y="1086" width="3" height="3" fill="#6a6480"/><rect x="603" y="1089" width="3" height="3" fill="#e05a2a"/><rect x="606" y="1074" width="3" height="3" fill="#fbd0c0"/><rect x="606" y="1077" width="3" height="3" fill="#fa5005"/><rect x="606" y="1080" width="3" height="3" fill="#c0583e"/><rect x="606" y="1083" width="3" height="3" fill="#8a5070"/><rect x="606" y="1086" width="3" height="3" fill="#6a6480"/><rect x="609" y="1071" width="3" height="3" fill="#fbd0c0"/><rect x="609" y="1074" width="3" height="3" fill="#e45a24"/><rect x="609" y="1077" width="3" height="3" fill="#6a6478"/><rect x="609" y="1080" width="3" height="3" fill="#f08060"/><rect x="609" y="1083" width="3" height="3" fill="#c8583e"/><rect x="609" y="1086" width="3" height="3" fill="#e05a2a"/><rect x="609" y="1089" width="3" height="3" fill="#e8b0b8"/><rect x="612" y="1071" width="3" height="3" fill="#fa5005"/><rect x="612" y="1074" width="3" height="3" fill="#ee6a3a"/><rect x="612" y="1077" width="3" height="3" fill="#c0583e"/><rect x="612" y="1080" width="3" height="3" fill="#3a72b0"/><rect x="612" y="1083" width="3" height="3" fill="#4a6a96"/><rect x="615" y="1068" width="3" height="3" fill="#f6b8a4"/><rect x="615" y="1071" width="3" height="3" fill="#e45a24"/><rect x="615" y="1074" width="3" height="3" fill="#c0583e"/><rect x="615" y="1077" width="3" height="3" fill="#fa5005"/><rect x="615" y="1080" width="3" height="3" fill="#e05a2a"/><rect x="618" y="1065" width="3" height="3" fill="#fbd0c0"/><rect x="618" y="1068" width="3" height="3" fill="#fa5005"/><rect x="618" y="1071" width="3" height="3" fill="#d8603a"/><rect x="618" y="1074" width="3" height="3" fill="#c8583e"/><rect x="618" y="1077" width="3" height="3" fill="#f08060"/><rect x="618" y="1080" width="3" height="3" fill="#8a5070"/><rect x="621" y="1062" width="3" height="3" fill="#fbd0c0"/><rect x="621" y="1065" width="3" height="3" fill="#fa5005"/><rect x="621" y="1068" width="3" height="3" fill="#e45a24"/><rect x="621" y="1071" width="3" height="3" fill="#c0583e"/><rect x="621" y="1074" width="3" height="3" fill="#c8583e"/><rect x="621" y="1077" width="3" height="3" fill="#e05a2a"/><rect x="621" y="1080" width="3" height="3" fill="#e8b0b8"/><rect x="624" y="1065" width="3" height="3" fill="#c0583e"/><rect x="624" y="1068" width="3" height="3" fill="#ee6a3a"/><rect x="624" y="1071" width="3" height="3" fill="#6a6480"/><rect x="624" y="1074" width="3" height="3" fill="#fa5005"/><rect x="627" y="1059" width="3" height="3" fill="#e8c8c0"/><rect x="627" y="1062" width="3" height="3" fill="#e45a24"/><rect x="627" y="1065" width="3" height="3" fill="#c0583e"/><rect x="627" y="1068" width="3" height="3" fill="#e05a2a"/><rect x="627" y="1071" width="3" height="3" fill="#e05a2a"/><rect x="627" y="1074" width="3" height="3" fill="#e05a2a"/><rect x="627" y="1077" width="3" height="3" fill="#fde6dc"/><rect x="630" y="1056" width="3" height="3" fill="#f6b8a4"/><rect x="630" y="1059" width="3" height="3" fill="#e45a24"/><rect x="630" y="1062" width="3" height="3" fill="#4c6a92"/><rect x="630" y="1065" width="3" height="3" fill="#e45a24"/><rect x="630" y="1068" width="3" height="3" fill="#e05a2a"/><rect x="630" y="1071" width="3" height="3" fill="#4a6a96"/><rect x="633" y="1059" width="3" height="3" fill="#fa5005"/><rect x="633" y="1062" width="3" height="3" fill="#e45a24"/><rect x="633" y="1065" width="3" height="3" fill="#3a72b0"/><rect x="633" y="1068" width="3" height="3" fill="#3a72b0"/><rect x="636" y="1053" width="3" height="3" fill="#f6b8a4"/><rect x="636" y="1056" width="3" height="3" fill="#fa5005"/><rect x="636" y="1059" width="3" height="3" fill="#fa5005"/><rect x="636" y="1062" width="3" height="3" fill="#f08060"/><rect x="636" y="1065" width="3" height="3" fill="#6a6480"/><rect x="636" y="1068" width="3" height="3" fill="#8a5070"/><rect x="636" y="1071" width="3" height="3" fill="#fde6dc"/><rect x="639" y="1050" width="3" height="3" fill="#fbd0c0"/><rect x="639" y="1053" width="3" height="3" fill="#c0583e"/><rect x="639" y="1056" width="3" height="3" fill="#b85048"/><rect x="639" y="1059" width="3" height="3" fill="#fa5005"/><rect x="639" y="1062" width="3" height="3" fill="#4a6a96"/><rect x="639" y="1065" width="3" height="3" fill="#3a72b0"/><rect x="639" y="1068" width="3" height="3" fill="#c8d8e8"/><rect x="642" y="1050" width="3" height="3" fill="#fbd0c0"/><rect x="642" y="1053" width="3" height="3" fill="#fa5005"/><rect x="642" y="1056" width="3" height="3" fill="#d8603a"/><rect x="642" y="1059" width="3" height="3" fill="#8a5070"/><rect x="642" y="1062" width="3" height="3" fill="#e05a2a"/><rect x="642" y="1065" width="3" height="3" fill="#c8d8e8"/><rect x="645" y="1050" width="3" height="3" fill="#fa5005"/><rect x="645" y="1053" width="3" height="3" fill="#e45a24"/><rect x="645" y="1056" width="3" height="3" fill="#e05a2a"/><rect x="645" y="1059" width="3" height="3" fill="#c01838"/><rect x="645" y="1062" width="3" height="3" fill="#4a6a96"/><rect x="645" y="1065" width="3" height="3" fill="#f4c0b4"/><rect x="648" y="1044" width="3" height="3" fill="#e8c8c0"/><rect x="648" y="1047" width="3" height="3" fill="#d8603a"/><rect x="648" y="1050" width="3" height="3" fill="#fa5005"/><rect x="648" y="1053" width="3" height="3" fill="#fa5005"/><rect x="648" y="1056" width="3" height="3" fill="#f08060"/><rect x="648" y="1059" width="3" height="3" fill="#a85858"/><rect x="648" y="1062" width="3" height="3" fill="#c8d8e8"/><rect x="651" y="1047" width="3" height="3" fill="#e45a24"/><rect x="651" y="1050" width="3" height="3" fill="#d8603a"/><rect x="651" y="1053" width="3" height="3" fill="#a85858"/><rect x="651" y="1056" width="3" height="3" fill="#a85858"/><rect x="654" y="1044" width="3" height="3" fill="#e45a24"/><rect x="654" y="1047" width="3" height="3" fill="#fa5005"/><rect x="654" y="1050" width="3" height="3" fill="#4a6a96"/><rect x="654" y="1053" width="3" height="3" fill="#e05a2a"/><rect x="654" y="1056" width="3" height="3" fill="#fa5005"/><rect x="657" y="1038" width="3" height="3" fill="#fde6dc"/><rect x="657" y="1041" width="3" height="3" fill="#e45a24"/><rect x="657" y="1044" width="3" height="3" fill="#ee6a3a"/><rect x="657" y="1047" width="3" height="3" fill="#e45a24"/><rect x="657" y="1050" width="3" height="3" fill="#e05a2a"/><rect x="657" y="1053" width="3" height="3" fill="#fa5005"/><rect x="657" y="1056" width="3" height="3" fill="#d0c0d0"/><rect x="660" y="1038" width="3" height="3" fill="#fa5005"/><rect x="660" y="1041" width="3" height="3" fill="#d8603a"/><rect x="660" y="1044" width="3" height="3" fill="#e45a24"/><rect x="660" y="1047" width="3" height="3" fill="#6a6480"/><rect x="660" y="1050" width="3" height="3" fill="#e05a2a"/><rect x="660" y="1053" width="3" height="3" fill="#e8b0b8"/><rect x="663" y="1032" width="3" height="3" fill="#f6b8a4"/><rect x="663" y="1038" width="3" height="3" fill="#6a6478"/><rect x="663" y="1041" width="3" height="3" fill="#fa5005"/><rect x="663" y="1044" width="3" height="3" fill="#fa5005"/><rect x="663" y="1047" width="3" height="3" fill="#3a5aa0"/><rect x="663" y="1050" width="3" height="3" fill="#3a5aa0"/><rect x="663" y="1053" width="3" height="3" fill="#f4c0b4"/><rect x="666" y="1035" width="3" height="3" fill="#e45a24"/><rect x="666" y="1038" width="3" height="3" fill="#b85048"/><rect x="666" y="1041" width="3" height="3" fill="#6a6480"/><rect x="666" y="1044" width="3" height="3" fill="#c01838"/><rect x="666" y="1047" width="3" height="3" fill="#e05a2a"/><rect x="669" y="1029" width="3" height="3" fill="#f6b8a4"/><rect x="669" y="1032" width="3" height="3" fill="#ee6a3a"/><rect x="669" y="1035" width="3" height="3" fill="#ee6a3a"/><rect x="669" y="1038" width="3" height="3" fill="#e05a2a"/><rect x="669" y="1041" width="3" height="3" fill="#e05a2a"/><rect x="669" y="1044" width="3" height="3" fill="#a85858"/><rect x="669" y="1047" width="3" height="3" fill="#c8d8e8"/><rect x="672" y="1026" width="3" height="3" fill="#fbd0c0"/><rect x="672" y="1029" width="3" height="3" fill="#c0583e"/><rect x="672" y="1032" width="3" height="3" fill="#b85048"/><rect x="672" y="1035" width="3" height="3" fill="#fa5005"/><rect x="672" y="1038" width="3" height="3" fill="#4a6a96"/><rect x="672" y="1041" width="3" height="3" fill="#c01838"/><rect x="672" y="1044" width="3" height="3" fill="#fde6dc"/><rect x="675" y="1023" width="3" height="3" fill="#e8c8c0"/><rect x="675" y="1026" width="3" height="3" fill="#d8603a"/><rect x="675" y="1029" width="3" height="3" fill="#d8603a"/><rect x="675" y="1032" width="3" height="3" fill="#fa5005"/><rect x="675" y="1035" width="3" height="3" fill="#6a6480"/><rect x="675" y="1038" width="3" height="3" fill="#4a6a96"/><rect x="675" y="1041" width="3" height="3" fill="#d0c0d0"/><rect x="678" y="1020" width="3" height="3" fill="#f6b8a4"/><rect x="678" y="1023" width="3" height="3" fill="#fa5005"/><rect x="678" y="1026" width="3" height="3" fill="#d8603a"/><rect x="678" y="1029" width="3" height="3" fill="#e45a24"/><rect x="678" y="1032" width="3" height="3" fill="#c8583e"/><rect x="678" y="1035" width="3" height="3" fill="#c01838"/><rect x="678" y="1041" width="3" height="3" fill="#f4c0b4"/><rect x="681" y="1020" width="3" height="3" fill="#fbd0c0"/><rect x="681" y="1023" width="3" height="3" fill="#fa5005"/><rect x="681" y="1026" width="3" height="3" fill="#e45a24"/><rect x="681" y="1029" width="3" height="3" fill="#fa5005"/><rect x="681" y="1032" width="3" height="3" fill="#6a6480"/><rect x="684" y="1023" width="3" height="3" fill="#f0b0c0"/><rect x="684" y="1026" width="3" height="3" fill="#d02848"/><rect x="684" y="1029" width="3" height="3" fill="#c8102e"/><rect x="687" y="1020" width="3" height="3" fill="#f0b0c0"/><rect x="687" y="1023" width="3" height="3" fill="#d02848"/><rect x="687" y="1026" width="3" height="3" fill="#c8102e"/><rect x="687" y="1029" width="3" height="3" fill="#a83850"/><rect x="687" y="1032" width="3" height="3" fill="#e890a8"/><rect x="690" y="1017" width="3" height="3" fill="#b01838"/><rect x="690" y="1020" width="3" height="3" fill="#e05070"/><rect x="690" y="1023" width="3" height="3" fill="#c8102e"/><rect x="690" y="1026" width="3" height="3" fill="#a83850"/><rect x="690" y="1029" width="3" height="3" fill="#e890a8"/><rect x="693" y="1014" width="3" height="3" fill="#c8102e"/><rect x="693" y="1017" width="3" height="3" fill="#e05070"/><rect x="693" y="1020" width="3" height="3" fill="#a83850"/><rect x="693" y="1023" width="3" height="3" fill="#c8102e"/><rect x="693" y="1026" width="3" height="3" fill="#f8d0d8"/><rect x="696" y="1008" width="3" height="3" fill="#e890a8"/><rect x="696" y="1011" width="3" height="3" fill="#c8102e"/><rect x="696" y="1014" width="3" height="3" fill="#e05070"/><rect x="696" y="1017" width="3" height="3" fill="#c8102e"/><rect x="696" y="1020" width="3" height="3" fill="#d02848"/><rect x="699" y="1005" width="3" height="3" fill="#f0b0c0"/><rect x="699" y="1008" width="3" height="3" fill="#d02848"/><rect x="699" y="1011" width="3" height="3" fill="#c8102e"/><rect x="699" y="1014" width="3" height="3" fill="#c8102e"/><rect x="699" y="1017" width="3" height="3" fill="#c8102e"/><rect x="699" y="1020" width="3" height="3" fill="#e890a8"/><rect x="702" y="1005" width="3" height="3" fill="#b01838"/><rect x="702" y="1008" width="3" height="3" fill="#e05070"/><rect x="702" y="1011" width="3" height="3" fill="#c8102e"/>
<rect x="185" y="1154.3" width="68" height="10.6" fill="#fa5005"/><rect x="185" y="1164.9" width="68" height="3" fill="#fdd6c8"/><rect x="185" y="1152.5" width="68" height="1.8" fill="#fde9e2"/>
<rect x="823" y="715" width="584" height="563" fill="#fff"/><rect x="823" y="712.3" width="584" height="6.8" fill="rgba(0,0,0,0.425)"/><rect x="823" y="1274" width="584" height="6.8" fill="rgba(0,0,0,0.425)"/><rect x="820.4" y="715.7" width="5.5" height="561.5" fill="rgba(0,0,0,0.425)"/><rect x="1404.4" y="715.7" width="5.3" height="561.5" fill="rgba(0,0,0,0.425)"/><rect x="842.8" y="748.3" width="120.5" height="3.7" fill="#b3dcf0"/><rect x="842.8" y="752.0" width="120.5" height="3.6" fill="#0070bd"/><rect x="842.8" y="755.6" width="120.5" height="3.4" fill="#12a6da"/><rect x="842.8" y="810.0" width="120.5" height="3.5" fill="#ffb49a"/><rect x="842.8" y="813.5" width="120.5" height="3.3" fill="#fa5005"/><rect x="842.8" y="816.8" width="120.5" height="3.6" fill="#ffc4b0"/><rect x="842.8" y="871.3" width="120.5" height="1.2" fill="#ffc850"/><rect x="842.8" y="872.5" width="120.5" height="4.9" fill="#ffb000"/><rect x="842.8" y="877.4" width="120.5" height="1.2" fill="#ffc040"/><rect x="842.8" y="929.3" width="120.5" height="3.7" fill="#dcacdc"/><rect x="842.8" y="933.0" width="120.5" height="7.0" fill="#8e2a8e"/><rect x="842.8" y="991.3" width="120.5" height="3.0" fill="#8cc464"/><rect x="842.8" y="994.3" width="120.5" height="3.7" fill="#55aa1e"/><rect x="842.8" y="998.0" width="120.5" height="3.6" fill="#84c05c"/><rect x="842.8" y="1052.8" width="120.5" height="6.9" fill="#00bff0"/><rect x="842.8" y="1059.7" width="120.5" height="3.1" fill="#b2e8f8"/><rect x="840.4" y="1110.5" width="125.3" height="2.5" fill="#d8607a"/><rect x="840.4" y="1113.0" width="125.3" height="8.0" fill="#be0a2e"/><rect x="840.4" y="1121.0" width="125.3" height="4.0" fill="#e48ca0"/><rect x="840.4" y="1171.8" width="125.3" height="10.9" fill="#0072c0"/><rect x="840.4" y="1182.7" width="125.3" height="4.0" fill="#b4daf0"/><rect x="840.4" y="1230.0" width="125.3" height="3.5" fill="#ffd4c4"/><rect x="840.4" y="1233.5" width="125.3" height="10.9" fill="#fa5005"/><rect x="840.4" y="1244.4" width="125.3" height="0.6" fill="#ff8c60"/>
<g opacity="0.999" stroke="#fff" stroke-width="0.5"><text x="106.26" y="1316.40" font-size="47.20" fill="#262626" font-style="normal" textLength="62.07" lengthAdjust="spacingAndGlyphs" style="font-kerning:none">200</text><text x="106.85" y="1178.70" font-size="47.20" fill="#262626" font-style="normal" textLength="61.47" lengthAdjust="spacingAndGlyphs" style="font-kerning:none">300</text><text x="107.43" y="1041.00" font-size="47.20" fill="#262626" font-style="normal" textLength="60.88" lengthAdjust="spacingAndGlyphs" style="font-kerning:none">400</text><text x="106.85" y="903.00" font-size="47.20" fill="#262626" font-style="normal" textLength="61.47" lengthAdjust="spacingAndGlyphs" style="font-kerning:none">500</text><text x="106.26" y="765.00" font-size="47.20" fill="#262626" font-style="normal" textLength="62.07" lengthAdjust="spacingAndGlyphs" style="font-kerning:none">600</text><text x="106.26" y="624.20" font-size="47.20" fill="#262626" font-style="normal" textLength="62.07" lengthAdjust="spacingAndGlyphs" style="font-kerning:none">700</text><text x="106.85" y="485.90" font-size="47.20" fill="#262626" font-style="normal" textLength="61.47" lengthAdjust="spacingAndGlyphs" style="font-kerning:none">800</text><text x="106.26" y="347.80" font-size="47.20" fill="#262626" font-style="normal" textLength="62.07" lengthAdjust="spacingAndGlyphs" style="font-kerning:none">900</text><text x="87.96" y="210.80" font-size="47.20" fill="#262626" font-style="normal" textLength="83.27" lengthAdjust="spacingAndGlyphs" style="font-kerning:none">1000</text><text x="87.96" y="73.30" font-size="47.20" fill="#262626" font-style="normal" textLength="83.27" lengthAdjust="spacingAndGlyphs" style="font-kerning:none">1100</text><text x="172.33" y="1363.60" font-size="47.20" fill="#262626" font-style="normal" textLength="21.69" lengthAdjust="spacingAndGlyphs" style="font-kerning:none">0</text><text x="309.10" y="1363.60" font-size="47.20" fill="#262626" font-style="normal" textLength="23.14" lengthAdjust="spacingAndGlyphs" style="font-kerning:none">2</text><text x="447.76" y="1363.60" font-size="47.20" fill="#262626" font-style="normal" textLength="21.03" lengthAdjust="spacingAndGlyphs" style="font-kerning:none">4</text><text x="586.40" y="1363.60" font-size="47.20" fill="#262626" font-style="normal" textLength="23.14" lengthAdjust="spacingAndGlyphs" style="font-kerning:none">6</text><text x="724.99" y="1363.60" font-size="47.20" fill="#262626" font-style="normal" textLength="22.39" lengthAdjust="spacingAndGlyphs" style="font-kerning:none">8</text><text x="854.96" y="1363.60" font-size="47.20" fill="#262626" font-style="normal" textLength="40.70" lengthAdjust="spacingAndGlyphs" style="font-kerning:none">10</text><text x="992.13" y="1363.60" font-size="47.20" fill="#262626" font-style="normal" textLength="41.33" lengthAdjust="spacingAndGlyphs" style="font-kerning:none">12</text><text x="1131.46" y="1363.60" font-size="47.20" fill="#262626" font-style="normal" textLength="40.70" lengthAdjust="spacingAndGlyphs" style="font-kerning:none">14</text><text x="1269.83" y="1363.60" font-size="47.20" fill="#262626" font-style="normal" textLength="41.33" lengthAdjust="spacingAndGlyphs" style="font-kerning:none">16</text><text x="1407.23" y="1363.60" font-size="47.20" fill="#262626" font-style="normal" textLength="41.33" lengthAdjust="spacingAndGlyphs" style="font-kerning:none">18</text><text x="710.52" y="1440.40" font-size="57.30" fill="#262626" font-style="normal" textLength="121.39" lengthAdjust="spacingAndGlyphs" stroke-width="1.1">Time (</text><text x="835.75" y="1440.40" font-size="57.30" fill="#262626" font-style="italic" textLength="21.89" lengthAdjust="spacingAndGlyphs" stroke-width="1.1">μ</text><text x="865.36" y="1440.40" font-size="57.30" fill="#262626" font-style="normal" textLength="34.38" lengthAdjust="spacingAndGlyphs" stroke-width="1.1">s)</text><text transform="translate(64.50,826.92) rotate(-90)" x="0" y="0" font-size="45.35" fill="#262626" textLength="314.95" lengthAdjust="spacingAndGlyphs">Temperature</text><text x="971.66" y="773.30" font-size="46.30" fill="#000" font-style="normal" textLength="353.75" lengthAdjust="spacingAndGlyphs">Top element (Dc = 0.6)</text><text x="971.66" y="831.00" font-size="46.30" fill="#000" font-style="normal" textLength="353.75" lengthAdjust="spacingAndGlyphs">Top element (Dc = 0.8)</text><text x="971.65" y="892.60" font-size="46.30" fill="#000" font-style="normal" textLength="373.65" lengthAdjust="spacingAndGlyphs">Top element (Dc = 0.99)</text><text x="971.30" y="954.30" font-size="46.30" fill="#000" font-style="normal" textLength="350.79" lengthAdjust="spacingAndGlyphs">Mid element (Dc = 0.6)</text><text x="971.30" y="1012.30" font-size="46.30" fill="#000" font-style="normal" textLength="350.79" lengthAdjust="spacingAndGlyphs">Mid element (Dc = 0.8)</text><text x="971.32" y="1074.00" font-size="46.30" fill="#000" font-style="normal" textLength="367.36" lengthAdjust="spacingAndGlyphs">Mid element (Dc = 0.99)</text><text x="971.61" y="1135.70" font-size="46.30" fill="#000" font-style="normal" textLength="402.47" lengthAdjust="spacingAndGlyphs">Bottom element (Dc = 0.6)</text><text x="971.61" y="1197.40" font-size="46.30" fill="#000" font-style="normal" textLength="402.47" lengthAdjust="spacingAndGlyphs">Bottom element (Dc = 0.8)</text><text x="971.61" y="1255.30" font-size="46.30" fill="#000" font-style="normal" textLength="422.17" lengthAdjust="spacingAndGlyphs">Bottom element (Dc = 0.99)</text></g>
<rect x="90.15" y="205.87" width="7.32" height="6.13" fill="#fff"/><rect x="100.58" y="205.87" width="7.02" height="6.13" fill="#fff"/><rect x="90.15" y="68.37" width="7.32" height="6.13" fill="#fff"/><rect x="100.58" y="68.37" width="7.02" height="6.13" fill="#fff"/><rect x="110.96" y="68.37" width="7.32" height="6.13" fill="#fff"/><rect x="121.39" y="68.37" width="7.02" height="6.13" fill="#fff"/><rect x="857.11" y="1358.67" width="7.16" height="6.13" fill="#fff"/><rect x="867.30" y="1358.67" width="6.86" height="6.13" fill="#fff"/><rect x="994.30" y="1358.67" width="7.27" height="6.13" fill="#fff"/><rect x="1004.65" y="1358.67" width="6.97" height="6.13" fill="#fff"/><rect x="1133.61" y="1358.67" width="7.16" height="6.13" fill="#fff"/><rect x="1143.80" y="1358.67" width="6.86" height="6.13" fill="#fff"/><rect x="1272.00" y="1358.67" width="7.27" height="6.13" fill="#fff"/><rect x="1282.35" y="1358.67" width="6.97" height="6.13" fill="#fff"/><rect x="1409.40" y="1358.67" width="7.27" height="6.13" fill="#fff"/><rect x="1419.75" y="1358.67" width="6.97" height="6.13" fill="#fff"/>
</svg>
</body></html>
